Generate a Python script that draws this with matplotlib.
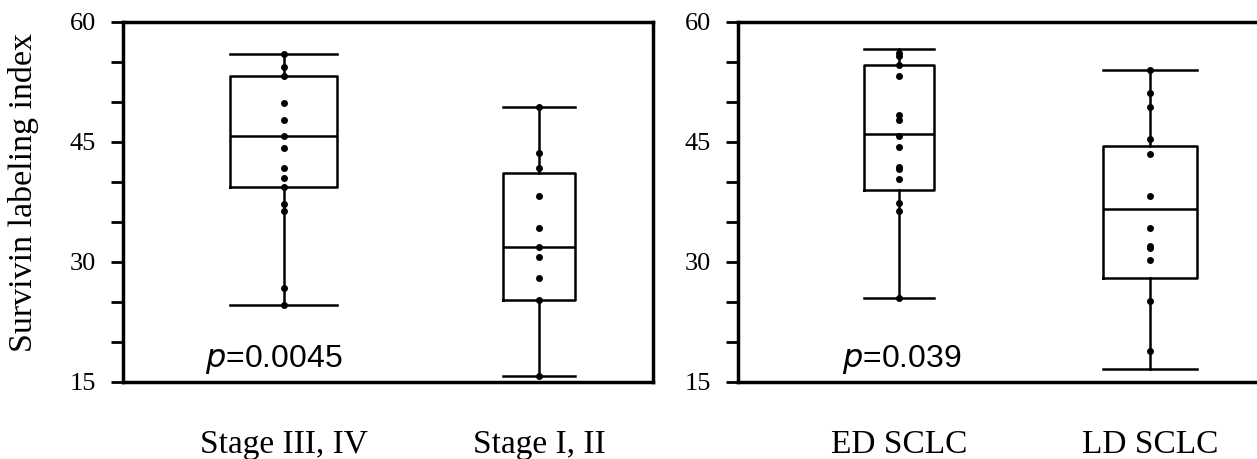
import matplotlib
matplotlib.use("Agg")
import matplotlib.pyplot as plt

# ---------------- data ----------------
left_categories = ["Stage III, IV", "Stage I, II"]
right_categories = ["ED SCLC", "LD SCLC"]

# box statistics
left_q1 = [39.4, 25.2]
left_med = [45.7, 31.9]
left_q3 = [53.2, 41.1]
left_whislo = [24.6, 15.8]
left_whishi = [56.0, 49.4]

right_q1 = [38.95, 28.0]
right_med = [46.0, 36.6]
right_q3 = [54.6, 44.5]
right_whislo = [25.5, 16.6]
right_whishi = [56.6, 54.0]

# individual points
stage34_points = [56.0, 54.4, 53.2, 49.9, 47.75, 45.7, 44.3, 41.8, 40.5, 39.4,
                  37.3, 36.4, 26.8, 24.6]
stage12_points = [49.4, 43.6, 41.8, 38.3, 34.2, 31.9, 30.6, 28.0, 25.2, 15.8]
ed_points = [56.1, 55.8, 54.6, 53.2, 48.4, 47.7, 45.7, 44.4, 41.9, 41.6, 40.4,
             37.4, 36.4, 25.5]
ld_points = [54.0, 51.1, 49.4, 45.4, 43.5, 38.3, 34.3, 32.0, 31.7, 30.3, 25.15, 18.9]

p_left = "0.0045"
p_right = "0.039"

y_major = [15, 30, 45, 60]
y_minor = [20, 25, 35, 40, 50, 55]

# ---------------- layout ----------------
W, H = 1257, 459
fig = plt.figure(figsize=(W / 100, H / 100), dpi=100)

serif = "Liberation Serif"
sans = "Liberation Sans"

ax_l = fig.add_axes([123 / W, 1 - 382 / H, 530 / W, 360 / H])
ax_r = fig.add_axes([738 / W, 1 - 382 / H, 530 / W, 360 / H])

left_pos = [0.303, 0.785]
left_w = [0.202, 0.136]
right_pos = [0.304, 0.777]
right_w = [0.131, 0.178]


def draw_panel(ax, cats, q1, med, q3, lo, hi, pts_list, pos, widths, ptxt, px):
    stats = []
    for i in range(len(cats)):
        stats.append(dict(q1=q1[i], med=med[i], q3=q3[i], whislo=lo[i],
                          whishi=hi[i], fliers=[], label=cats[i]))
    lw = 1.8
    ax.bxp(stats, positions=pos, widths=widths, capwidths=widths,
           showfliers=False, manage_ticks=False,
           boxprops=dict(color="black", linewidth=lw),
           medianprops=dict(color="black", linewidth=lw),
           whiskerprops=dict(color="black", linewidth=lw),
           capprops=dict(color="black", linewidth=lw))
    for p, pts in zip(pos, pts_list):
        ax.plot([p] * len(pts), pts, "o", color="black", markersize=5.0,
                markeredgewidth=0, zorder=5)
    ax.set_xlim(0, 1)
    ax.set_ylim(15, 60)
    ax.set_yticks(y_major)
    ax.set_yticklabels([str(v) for v in y_major], fontfamily=serif, fontsize=19)
    ax.set_yticks(y_minor, minor=True)
    ax.tick_params(axis="y", which="both", direction="out", length=8.4,
                   width=2.0, pad=11)
    ax.set_xticks(pos)
    ax.set_xticklabels(cats, fontfamily=serif, fontsize=24)
    ax.tick_params(axis="x", which="both", length=0, pad=34)
    for s in ax.spines.values():
        s.set_linewidth(2.5)
    ax.text(px, 16.9, r"$\it{p}$" + "=" + ptxt, fontfamily=sans, fontsize=23,
            ha="left", va="baseline", transform=ax.transData)


draw_panel(ax_l, left_categories, left_q1, left_med, left_q3, left_whislo,
           left_whishi, [stage34_points, stage12_points], left_pos, left_w,
           p_left, 0.155)
draw_panel(ax_r, right_categories, right_q1, right_med, right_q3, right_whislo,
           right_whishi, [ed_points, ld_points], right_pos, right_w,
           p_right, 0.196)

fig.text(24 / W, 1 - 192 / H, "Survivin labeling index", rotation=90,
         ha="center", va="center", fontfamily=serif, fontsize=24.5)

fig.savefig("out.png", dpi=100, facecolor="white")
